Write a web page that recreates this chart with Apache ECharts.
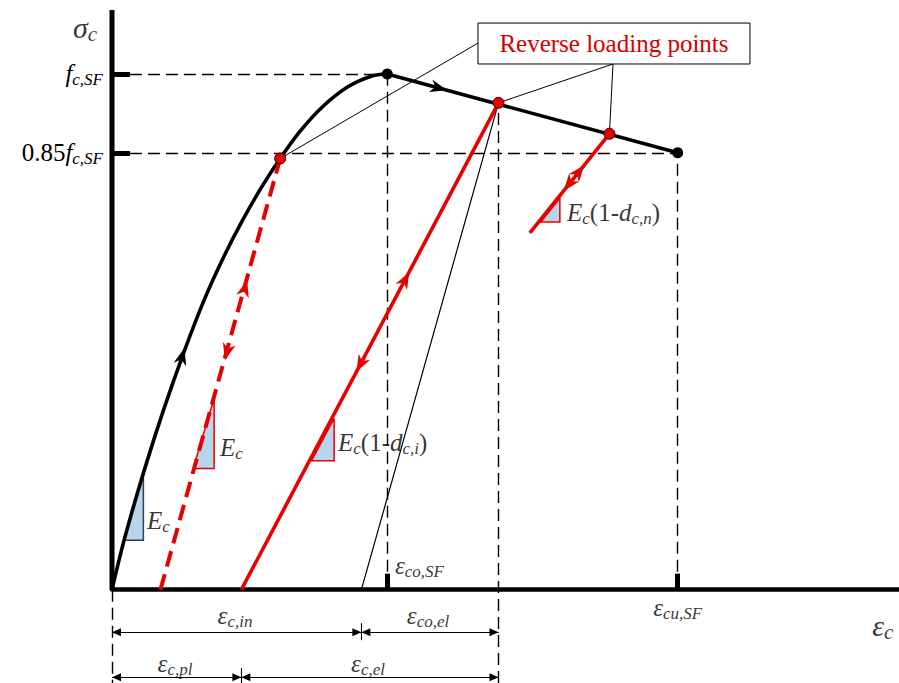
<!DOCTYPE html>
<html><head><meta charset="utf-8">
<script src="https://cdn.jsdelivr.net/npm/echarts@6/dist/echarts.min.js"></script>
<style>html,body{margin:0;padding:0;background:#fff}#c{width:899px;height:683px}</style>
</head><body><div id="c"></div>
<script>
// ---------- data: strain normalised by eps_co,SF, stress normalised by f_c,SF
const envelopeStrain = [0, 0.044, 0.114, 0.187, 0.264, 0.335, 0.4065, 0.475, 0.544, 0.611, 0.682, 0.764, 0.857, 0.944, 1.0];
const envelopeStress = [0, 0.096, 0.226, 0.348, 0.4646, 0.562, 0.646, 0.717, 0.781, 0.836, 0.888, 0.936, 0.975, 0.996, 1.0];
const softeningStrain = [1.0, 2.055];
const softeningStress = [1.0, 0.847];
const keyPointStrain = [1.0, 2.055];
const keyPointStress = [1.0, 0.847];
const reverseStrain = [0.611, 1.404, 1.807];
const reverseStress = [0.836, 0.944, 0.884];
const unloadDashedStrain = [0.176, 0.611];
const unloadDashedStress = [0, 0.836];
const unloadSolidStrain = [0.470, 1.404];
const unloadSolidStress = [0, 0.944];
const unloadShortStrain = [1.518, 1.807];
const unloadShortStress = [0.692, 0.884];
const secantStrain = [0.906, 1.404];
const secantStress = [0, 0.944];
const fcLevel = 1.0, residualLevel = 0.847;
const epsCo = 1.0, epsCu = 2.055, epsEl = 1.404, epsPl = 0.470, epsIn = 0.906;
const yTickValues = [0.847, 1.0];
const yTickLabels = ['{n|0.85}{i|f}{s|c,SF}', '{i|f}{s|c,SF}'];
const xTickValues = [1.0, 2.055];
// slope triangles (three vertices each)
const slopeTriangles = [
  [0.044, 0.096, 0.114, 0.096, 0.114, 0.226, 0],
  [0.295, 0.235, 0.371, 0.235, 0.371, 0.371, 1],
  [0.725, 0.250, 0.807, 0.250, 0.807, 0.332, 1],
  [1.558, 0.713, 1.627, 0.713, 1.627, 0.759, 1]
];
// direction arrows on paths: [from strain, from stress, tip strain, tip stress, colour 0=black 1=red]
const pathArrows = [
  [0.251, 0.445, 0.263, 0.4685, 0],
  [1.173, 0.975, 1.217, 0.9686, 0],
  [0.475, 0.570, 0.491, 0.600, 1],
  [0.425, 0.475, 0.410, 0.445, 1],
  [1.050, 0.586, 1.080, 0.616, 1],
  [0.918, 0.4525, 0.888, 0.4225, 1],
  [1.681, 0.800, 1.716, 0.8235, 1],
  [1.676, 0.797, 1.641, 0.7736, 1]
];
// dimension rows below the axis
const dimRowIn = -0.0824, dimRowPl = -0.170, dimBottom = -0.181;
const dimSegments = [
  [0, epsIn, dimRowIn], [epsIn, epsEl, dimRowIn],
  [0, epsPl, dimRowPl], [epsPl, epsEl, dimRowPl]
];
// text annotations
const annoText = [
  '{g|σ}{gs|c}', '{i|E}{s|c}', '{i|E}{s|c}', '{i|E}{s|c}{n|(1-}{i|d}{s|c,i}{n|)}',
  '{i|E}{s|c}{n|(1-}{i|d}{s|c,n}{n|)}', '{e|ε}{s|co,SF}', '{e|ε}{s|c,in}', '{e|ε}{s|co,el}',
  '{e|ε}{s|c,pl}', '{e|ε}{s|c,el}', '{g|ε}{gs|c}', '{e|ε}{s|cu,SF}'
];
const annoStrain = [-0.098, 0.127, 0.392, 0.821, 1.653, 1.028, 0.447, 1.148, 0.229, 0.930, 2.80, 2.055];
const annoStress = [1.091, 0.135, 0.276, 0.286, 0.732, 0.0475, -0.0495, -0.0495, -0.1426, -0.1426, -0.069, -0.034];
const annoAlign = ['center', 'left', 'left', 'left', 'left', 'left', 'center', 'center', 'center', 'center', 'center', 'center'];
const boxText = 'Reverse loading points';
const boxCorners = [[1.3295, 1.0987], [2.3175, 1.0193]];
const leaderFrom = [[0.611, 0.836], [1.820, 1.0193], [1.820, 1.0193]];
const leaderTo = [[1.330, 1.060], [1.404, 0.944], [1.807, 0.884]];

// ---------- styles
const RED = '#e60000';
const serif = "'Liberation Serif','Times New Roman',serif";
const rich = {
  i: {fontFamily: serif, fontStyle: 'italic', fontSize: 25, color: '#000'},
  e: {fontFamily: serif, fontStyle: 'italic', fontSize: 25, color: '#000'},
  n: {fontFamily: serif, fontSize: 25, color: '#000'},
  s: {fontFamily: serif, fontStyle: 'italic', fontSize: 17, color: '#000', padding: [12, 0, 0, 0]},
  g: {fontFamily: serif, fontStyle: 'italic', fontSize: 30, color: '#000'},
  gs: {fontFamily: serif, fontStyle: 'italic', fontSize: 21, color: '#000', padding: [14, 0, 0, 0]}
};
const zip = (a, b) => a.map((v, i) => [v, b[i]]);

const dashedRefs = [
  [[0.065, fcLevel], [epsCo, fcLevel]],
  [[0.065, residualLevel], [epsCu, residualLevel]],
  [[epsCo, 0], [epsCo, fcLevel]],
  [[epsCu, 0], [epsCu, residualLevel]],
  [[epsEl, dimBottom], [epsEl, reverseStress[1]]],
  [[0, 0], [0, dimBottom]]
];
const dimLines = dimSegments.map(s => [[s[0], s[2]], [s[1], s[2]]]);
const dimTicks = [[[epsIn, -0.065], [epsIn, -0.098]], [[epsPl, -0.152], [epsPl, dimBottom]]];
const dimArrows = [];
dimSegments.forEach(s => { dimArrows.push([s[0], s[2], s[1], s[2], 2]); dimArrows.push([s[1], s[2], s[0], s[2], 2]); });

function arrowItem(params, api) {
  const a = api.coord([api.value(0), api.value(1)]);
  const b = api.coord([api.value(2), api.value(3)]);
  const kind = api.value(4);
  const dx = b[0] - a[0], dy = b[1] - a[1];
  const len = Math.hypot(dx, dy) || 1;
  const ux = dx / len, uy = dy / len, nx = -uy, ny = ux;
  const L = kind === 2 ? 9 : 17, W = kind === 2 ? 8 : 13, notch = kind === 2 ? 0 : 5;
  const bx = b[0] - ux * L, by = b[1] - uy * L;
  return {
    type: 'polygon',
    shape: {points: [[b[0], b[1]], [bx + nx * W / 2, by + ny * W / 2],
      [b[0] - ux * (L - notch), b[1] - uy * (L - notch)], [bx - nx * W / 2, by - ny * W / 2]]},
    style: {fill: kind === 1 ? RED : '#000'}
  };
}
function triItem(params, api) {
  const pts = [0, 2, 4].map(k => api.coord([api.value(k), api.value(k + 1)]));
  return {
    type: 'polygon', shape: {points: pts},
    style: {fill: '#b7d6ee', stroke: api.value(6) === 0 ? '#33414f' : RED, lineWidth: 1.5}
  };
}
function segs(list) { return list.map(c => ({coords: c})); }

const chart = echarts.init(document.getElementById('c'), null, {renderer: 'svg'});
chart.setOption({
  animation: false,
  backgroundColor: '#fff',
  grid: {left: 112, right: 0, top: 10, bottom: 0, outerBoundsMode: 'none', containLabel: false},
  xAxis: {
    type: 'value', min: 0, max: 2.859,
    splitLine: {show: false},
    axisLine: {onZero: true, lineStyle: {color: '#000', width: 4.5}},
    axisTick: {customValues: xTickValues, inside: true, length: 16, lineStyle: {color: '#000', width: 5}},
    axisLabel: {show: false}
  },
  yAxis: {
    type: 'value', min: -0.181, max: 1.124,
    splitLine: {show: false},
    axisLine: {show: false},
    axisTick: {customValues: yTickValues, inside: true, length: 18, lineStyle: {color: '#000', width: 5}},
    axisLabel: {customValues: yTickValues, margin: 9, rich: rich,
      formatter: v => yTickLabels[Math.abs(v - 1) < 0.01 ? 1 : 0]}
  },
  series: [
    {type: 'line', data: [[0, 0], [0, 1.124]], symbol: 'none', clip: false, z: 3,
      lineStyle: {color: '#000', width: 5}, silent: true},
    {type: 'lines', coordinateSystem: 'cartesian2d', data: segs(dashedRefs), z: 1, silent: true,
      lineStyle: {color: '#000', width: 1.4, type: [12, 6], opacity: 1}},
    {type: 'lines', coordinateSystem: 'cartesian2d', data: segs(dimLines.concat(dimTicks)), z: 1, silent: true,
      lineStyle: {color: '#000', width: 1.1, opacity: 1}},
    {type: 'lines', coordinateSystem: 'cartesian2d', z: 2, silent: true,
      data: leaderFrom.map((p, i) => ({coords: [p, leaderTo[i]]})),
      lineStyle: {color: '#000', width: 1, opacity: 1}},
    {type: 'line', data: zip(secantStrain, secantStress), symbol: 'none', z: 2, silent: true,
      lineStyle: {color: '#000', width: 1.2}},
    {type: 'custom', renderItem: triItem, data: slopeTriangles, z: 3, silent: true,
      encode: {x: [0, 2, 4], y: [1, 3, 5]}},
    {type: 'line', data: zip(envelopeStrain, envelopeStress), smooth: 0.3, symbol: 'none', z: 4, silent: true,
      lineStyle: {color: '#000', width: 3.6}},
    {type: 'line', data: zip(softeningStrain, softeningStress), symbol: 'none', z: 4, silent: true,
      lineStyle: {color: '#000', width: 3.6},
      markArea: {silent: true, z: 5,
        itemStyle: {color: '#fff', borderColor: '#000', borderWidth: 1},
        label: {show: true, position: 'inside', formatter: boxText, color: '#d40000',
          fontFamily: serif, fontSize: 25},
        data: [[{coord: boxCorners[0]}, {coord: boxCorners[1]}]]}},
    {type: 'line', data: zip(unloadDashedStrain, unloadDashedStress), symbol: 'none', z: 4, silent: true,
      lineStyle: {color: RED, width: 4, type: [16, 8]}},
    {type: 'line', data: zip(unloadSolidStrain, unloadSolidStress), symbol: 'none', z: 4, silent: true,
      lineStyle: {color: RED, width: 3.6}},
    {type: 'line', data: zip(unloadShortStrain, unloadShortStress), symbol: 'none', z: 4, silent: true,
      lineStyle: {color: RED, width: 3.6}},
    {type: 'custom', renderItem: arrowItem, data: pathArrows.concat(dimArrows), z: 5, silent: true,
      encode: {x: [0, 2], y: [1, 3]}},
    {type: 'scatter', data: zip(keyPointStrain, keyPointStress), symbolSize: 11, z: 6, silent: true,
      itemStyle: {color: '#000', opacity: 1}},
    {type: 'scatter', data: zip(reverseStrain, reverseStress), symbolSize: 11, z: 6, silent: true,
      itemStyle: {color: RED, borderColor: '#3a0000', borderWidth: 1, opacity: 1}},
    {type: 'scatter', clip: false, symbolSize: 0, z: 7, silent: true,
      data: annoText.map((t, i) => ({value: [annoStrain[i], annoStress[i]],
        label: {formatter: t, align: annoAlign[i]}})),
      label: {show: true, position: 'inside', verticalAlign: 'middle', rich: rich}}
  ]
});
</script></body></html>
